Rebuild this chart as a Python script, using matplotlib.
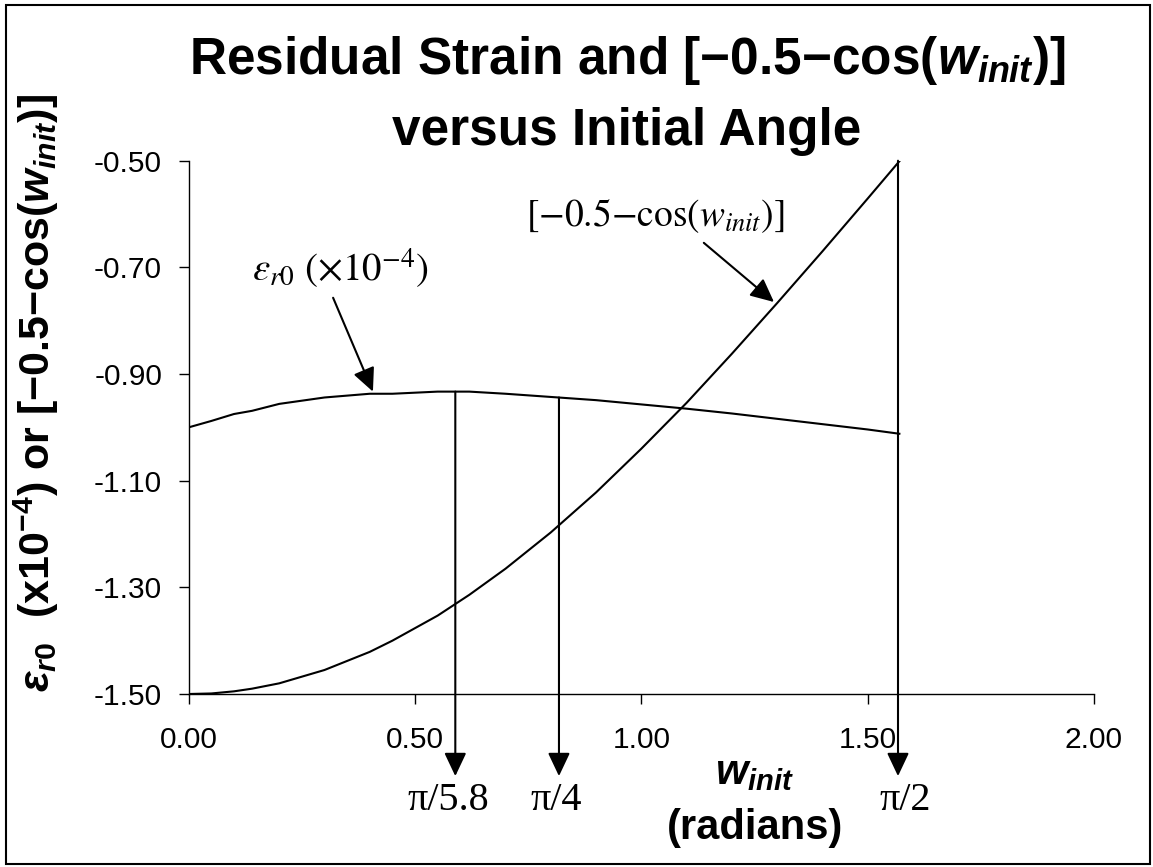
import matplotlib
matplotlib.use("Agg")
import matplotlib.pyplot as plt
from matplotlib.patches import Rectangle

# values
w_init = [0.00, 0.05, 0.10, 0.14, 0.20, 0.30, 0.40, 0.45, 0.55, 0.62,
          0.70, 0.80, 0.90, 1.00, 1.10, 1.20, 1.30, 1.40, 1.50, 1.57]
strain = [-1.000, -0.988, -0.975, -0.969, -0.956, -0.944, -0.937, -0.937, -0.933, -0.933,
          -0.937, -0.943, -0.949, -0.957, -0.965, -0.974, -0.984, -0.994, -1.004, -1.012]
cos_term = [-1.500, -1.499, -1.495, -1.490, -1.480, -1.455, -1.421, -1.400, -1.353, -1.314,
            -1.265, -1.197, -1.122, -1.040, -0.954, -0.862, -0.767, -0.670, -0.571, -0.501]

# marked angles: arrow x, where the arrow starts, label
mark_x = [0.589, 0.818, 1.567]
mark_top = [-0.933, -0.944, -0.50]
mark_labels = ["π/5.8", "π/4", "π/2"]
mark_label_x = [0.573, 0.812, 1.582]

x_ticks = [0.0, 0.5, 1.0, 1.5, 2.0]
y_ticks = [-1.5, -1.3, -1.1, -0.9, -0.7, -0.5]

plt.rcParams['font.family'] = 'Liberation Sans'
plt.rcParams['mathtext.fontset'] = 'custom'
plt.rcParams['mathtext.rm'] = 'Liberation Sans:bold'
plt.rcParams['mathtext.it'] = 'Liberation Sans:bold:italic'
plt.rcParams['mathtext.bf'] = 'Liberation Sans:bold'
plt.rcParams['axes.unicode_minus'] = False

W, H = 1153, 867
fig = plt.figure(figsize=(W / 100, H / 100), dpi=100)
ax = fig.add_axes([188.7 / W, 1 - 694 / H, (1094 - 188.7) / W, (694 - 160.7) / H])

ax.plot(w_init, strain, color='black', lw=1.5)
ax.plot(w_init, cos_term, color='black', lw=1.5)

ax.set_xlim(0, 2)
ax.set_ylim(-1.5, -0.5)
ax.set_xticks(x_ticks)
ax.set_yticks(y_ticks)
ax.set_xticklabels(["%.2f" % v for v in x_ticks])
ax.set_yticklabels(["%.2f" % v for v in y_ticks])
ax.spines['top'].set_visible(False)
ax.spines['right'].set_visible(False)
for s in ['left', 'bottom']:
    ax.spines[s].set_linewidth(1.0)
ax.tick_params(direction='out', length=7.2, width=1.0, labelsize=21.5)
ax.tick_params(axis='x', pad=16)
ax.tick_params(axis='y', pad=12)

head = '-|>,head_length=0.55,head_width=0.26'

# vertical arrows down to the angle labels
tip_y = -1.654
for x, top, lab, lx in zip(mark_x, mark_top, mark_labels, mark_label_x):
    ax.annotate('', xy=(x, tip_y), xytext=(x, top), annotation_clip=False,
                arrowprops=dict(arrowstyle=head, mutation_scale=26, lw=1.5,
                                color='black', shrinkA=0, shrinkB=0))
    ax.text(lx, -1.699, lab, fontsize=29, family='Liberation Serif',
            ha='center', va='center', clip_on=False)

# curve labels
ax.annotate('', xy=(0.407, -0.933), xytext=(0.319, -0.757),
            arrowprops=dict(arrowstyle=head, mutation_scale=26, lw=1.5,
                            color='black', shrinkA=0, shrinkB=0))
ax.text(0.335, -0.701, r'$\varepsilon_{\mathit{r0}}\ (\times10^{-4})$', fontsize=28,
        math_fontfamily='stix', ha='center', va='center')
ax.annotate('', xy=(1.293, -0.765), xytext=(1.138, -0.654),
            arrowprops=dict(arrowstyle=head, mutation_scale=26, lw=1.5,
                            color='black', shrinkA=0, shrinkB=0))
ax.text(1.031, -0.602, r'$[{-}0.5{-}\mathrm{cos}(w_{init})]$', fontsize=27,
        math_fontfamily='stix', ha='center', va='center')

# title
fig.text(627 / W, 1 - 74 / H, 'Residual Strain and [−0.5−cos($w_{init}$)]',
         fontsize=37, fontweight='bold', ha='center', va='baseline')
fig.text(627 / W, 1 - 145 / H, 'versus Initial Angle',
         fontsize=37, fontweight='bold', ha='center', va='baseline')

# axis labels
fig.text(755 / W, 1 - 773 / H, '$w_{init}$', fontsize=30, ha='center', va='center')
fig.text(755 / W, 1 - 828 / H, '(radians)', fontsize=30, fontweight='bold',
         ha='center', va='center')
fig.text(36 / W, 1 - 393 / H,
         '$ε_{r0}$  (x10$^{-4}$) or [−0.5−cos($w_{init}$)]',
         fontsize=31, fontweight='bold', rotation=90, ha='center', va='center')

# outer frame
fig.add_artist(Rectangle((6 / W, 1 - 864 / H), (1150 - 6) / W, (864 - 5) / H,
                         transform=fig.transFigure, fill=False, lw=1.5,
                         edgecolor='black'))

fig.savefig('out.png', dpi=100)
